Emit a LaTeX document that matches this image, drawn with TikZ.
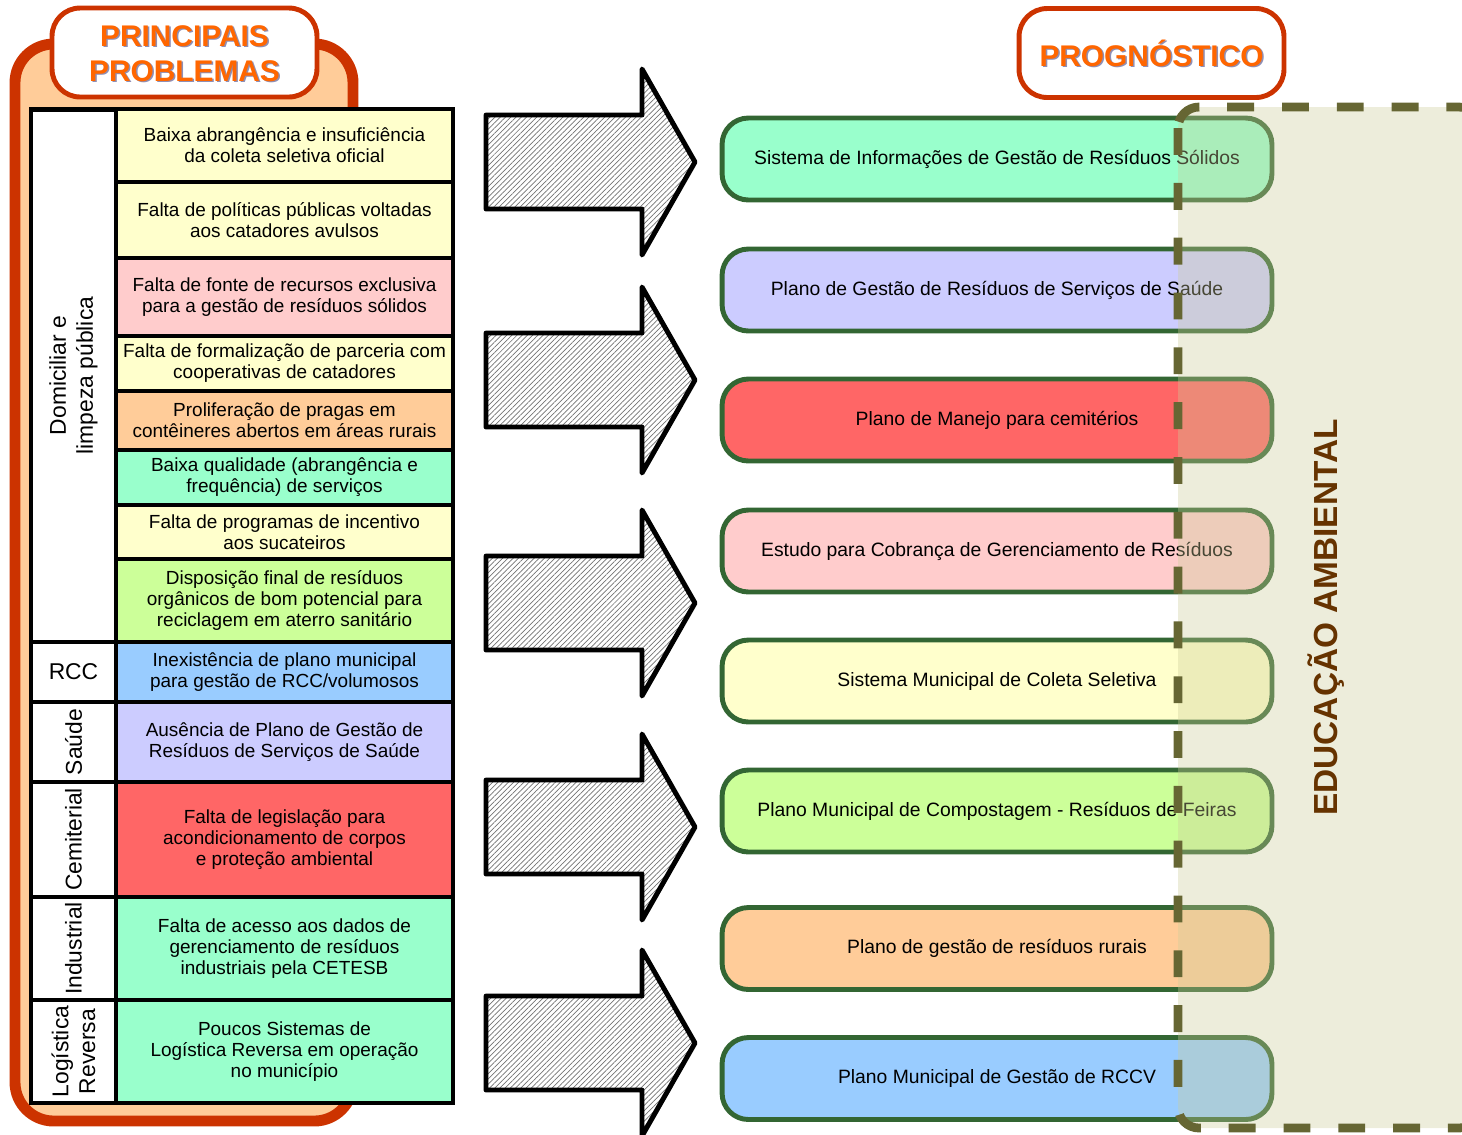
\documentclass[tikz,border=0pt]{standalone}
\usepackage{fontspec}
\setmainfont{Liberation Sans}
\usetikzlibrary{patterns.meta}

\definecolor{frameRed}{HTML}{CC3300}
\definecolor{frameFill}{HTML}{FFCC99}
\definecolor{ttlOrange}{HTML}{FF6600}
\definecolor{ttlShade}{HTML}{33337A}
\definecolor{progGreen}{HTML}{336633}
\definecolor{eaFill}{HTML}{CCCC99}
\definecolor{eaLine}{HTML}{666633}
\definecolor{eaText}{HTML}{663300}
\definecolor{cYellow}{HTML}{FFFFCC}
\definecolor{cPink}{HTML}{FFCCCC}
\definecolor{cOrange}{HTML}{FFCC99}
\definecolor{cMint}{HTML}{99FFCC}
\definecolor{cLime}{HTML}{CCFF99}
\definecolor{cBlue}{HTML}{99CCFF}
\definecolor{cLav}{HTML}{CCCCFF}
\definecolor{cRed}{HTML}{FF6666}

\begin{document}
\begin{tikzpicture}[x=0.02cm, y=-0.02cm, font=\fontsize{10.8}{11.9}\selectfont]%
    \tikzstyle{cell} = [rectangle, draw=black, line width=2.8pt, minimum width=6.74cm, inner sep=0pt, align=center]
    \tikzstyle{cat} = [rectangle, draw=black, fill=white, line width=2.8pt, minimum width=1.7cm, inner sep=0pt]
    \tikzstyle{catlbl} = [rotate=90, align=center, font=\fontsize{13}{15.3}\selectfont]
    \tikzstyle{prog} = [rectangle, rounded corners=15pt, draw=progGreen, line width=2.8pt, minimum width=11cm, minimum height=1.64cm, inner sep=0pt, font=\fontsize{11}{13}\selectfont]
    \tikzstyle{ttlbox} = [rectangle, rounded corners=16pt, draw=frameRed, fill=white, line width=2.8pt, minimum width=5.3cm, minimum height=1.78cm]
    \tikzstyle{ttl} = [align=center, text=ttlOrange, font=\fontsize{17}{19.8}\selectfont\bfseries]
    \tikzstyle{ttlshade} = [ttl, text=ttlShade, text opacity=0.55]
    \tikzstyle{hatch} = [draw=black, line width=2.8pt, line join=round, preaction={fill=white}, pattern={Lines[angle=45, distance=2.1pt, line width=0.4pt]}, pattern color=black!55]
    \tikzstyle{eabox} = [rounded corners=12pt, fill=eaFill, fill opacity=0.35, draw=eaLine, line width=5pt, dash pattern=on 15.3pt off 15.9pt]
    %%
    \useasboundingbox (0,0) rectangle (1462,1134);
    \clip (0,0) rectangle (1462,1134);

    %% Principais problemas
    \draw[draw=frameRed, fill=frameFill, line width=6.2pt, rounded corners=22pt] (15,44) rectangle (353,1121);
    \node[ttlbox] (probBox) at (184.5,52.5) {};
    \node[ttlshade] (probShade) at (186,55) {PRINCIPAIS\\PROBLEMAS};
    \node[ttl] (probTtl) at (184.5,53.5) {PRINCIPAIS\\PROBLEMAS};

    %% Categories
    \node[cat, minimum height=10.66cm] (c1) at (73.5,375.5) {};
    \node[cat, minimum height=1.20cm] (c2) at (73.5,672) {};
    \node[cat, minimum height=1.60cm] (c3) at (73.5,742) {};
    \node[cat, minimum height=2.30cm] (c4) at (73.5,839.5) {};
    \node[cat, minimum height=2.06cm] (c5) at (73.5,948.5) {};
    \node[cat, minimum height=2.06cm] (c6) at (73.5,1051.5) {};
    \node[catlbl] (c1t) at (c1) {Domiciliar e\\limpeza pública};
    \node[font=\fontsize{13}{15.3}\selectfont] (c2t) at (c2) {RCC};
    \node[catlbl] (c3t) at (c3) {Saúde};
    \node[catlbl] (c4t) at (c4) {Cemiterial};
    \node[catlbl] (c5t) at (c5) {Industrial};
    \node[catlbl] (c6t) at (c6) {Logística\\Reversa};

    %% Problems
    \node[cell, fill=cYellow, minimum height=1.46cm] (p1) at (284.5,145.5) {Baixa abrangência e insuficiência\\da coleta seletiva oficial};
    \node[cell, fill=cYellow, minimum height=1.52cm] (p2) at (284.5,220) {Falta de políticas públicas voltadas\\aos catadores avulsos};
    \node[cell, fill=cPink, minimum height=1.56cm] (p3) at (284.5,297) {Falta de fonte de recursos exclusiva\\para a gestão de resíduos sólidos};
    \node[cell, fill=cYellow, minimum height=1.10cm] (p4) at (284.5,363.5) {Falta de formalização de parceria com\\cooperativas de catadores};
    \node[cell, fill=cOrange, minimum height=1.18cm] (p5) at (284.5,420.5) {Proliferação de pragas em\\contêineres abertos em áreas rurais};
    \node[cell, fill=cMint, minimum height=1.10cm] (p6) at (284.5,477.5) {Baixa qualidade (abrangência e\\frequência) de serviços};
    \node[cell, fill=cYellow, minimum height=1.08cm] (p7) at (284.5,532) {Falta de programas de incentivo\\aos sucateiros};
    \node[cell, fill=cLime, minimum height=1.66cm] (p8) at (284.5,600.5) {Disposição final de resíduos\\orgânicos de bom potencial para\\reciclagem em aterro sanitário};
    \node[cell, fill=cBlue, minimum height=1.20cm] (p9) at (284.5,672) {Inexistência de plano municipal\\para gestão de RCC/volumosos};
    \node[cell, fill=cLav, minimum height=1.60cm] (p10) at (284.5,742) {Ausência de Plano de Gestão de\\Resíduos de Serviços de Saúde};
    \node[cell, fill=cRed, minimum height=2.30cm] (p11) at (284.5,839.5) {Falta de legislação para\\acondicionamento de corpos\\e proteção ambiental};
    \node[cell, fill=cMint, minimum height=2.06cm] (p12) at (284.5,948.5) {Falta de acesso aos dados de\\gerenciamento de resíduos\\industriais pela CETESB};
    \node[cell, fill=cMint, minimum height=2.06cm] (p13) at (284.5,1051.5) {Poucos Sistemas de\\Logística Reversa em operação\\no município};

    %% Arrows
    \foreach \ay in {162,380,603,827,1043}
        \draw[hatch] (486,\ay-47) -- (642,\ay-47) -- (642,\ay-93) -- (695,\ay) -- (642,\ay+93) -- (642,\ay+47) -- (486,\ay+47) -- cycle;

    %% Prognostico
    \node[ttlbox] (progBox) at (1151.5,53) {};
    \node[ttlshade] (progShade) at (1153,54.5) {PROGNÓSTICO};
    \node[ttl] (progTtl) at (1151.5,53) {PROGNÓSTICO};

    \node[prog, fill=cMint] (s1) at (997,159) {Sistema de Informações de Gestão de Resíduos Sólidos};
    \node[prog, fill=cLav] (s2) at (997,290) {Plano de Gestão de Resíduos de Serviços de Saúde};
    \node[prog, fill=cRed] (s3) at (997,420) {Plano de Manejo para cemitérios};
    \node[prog, fill=cPink] (s4) at (997,551) {Estudo para Cobrança de Gerenciamento de Resíduos};
    \node[prog, fill=cYellow] (s5) at (997,681) {Sistema Municipal de Coleta Seletiva};
    \node[prog, fill=cLime] (s6) at (997,811) {Plano Municipal de Compostagem - Resíduos de Feiras};
    \node[prog, fill=cOrange] (s7) at (997,948.5) {Plano de gestão de resíduos rurais};
    \node[prog, fill=cBlue] (s8) at (997,1078.5) {Plano Municipal de Gestão de RCCV};

    %% Educacao ambiental
    \draw[eabox] (1178,107) rectangle (1480,1128);
    \node[rotate=90, text=eaText, font=\fontsize{19}{22}\selectfont\bfseries] (eaT) at (1326,617.5) {EDUCAÇÃO AMBIENTAL};
\end{tikzpicture}
\end{document}
